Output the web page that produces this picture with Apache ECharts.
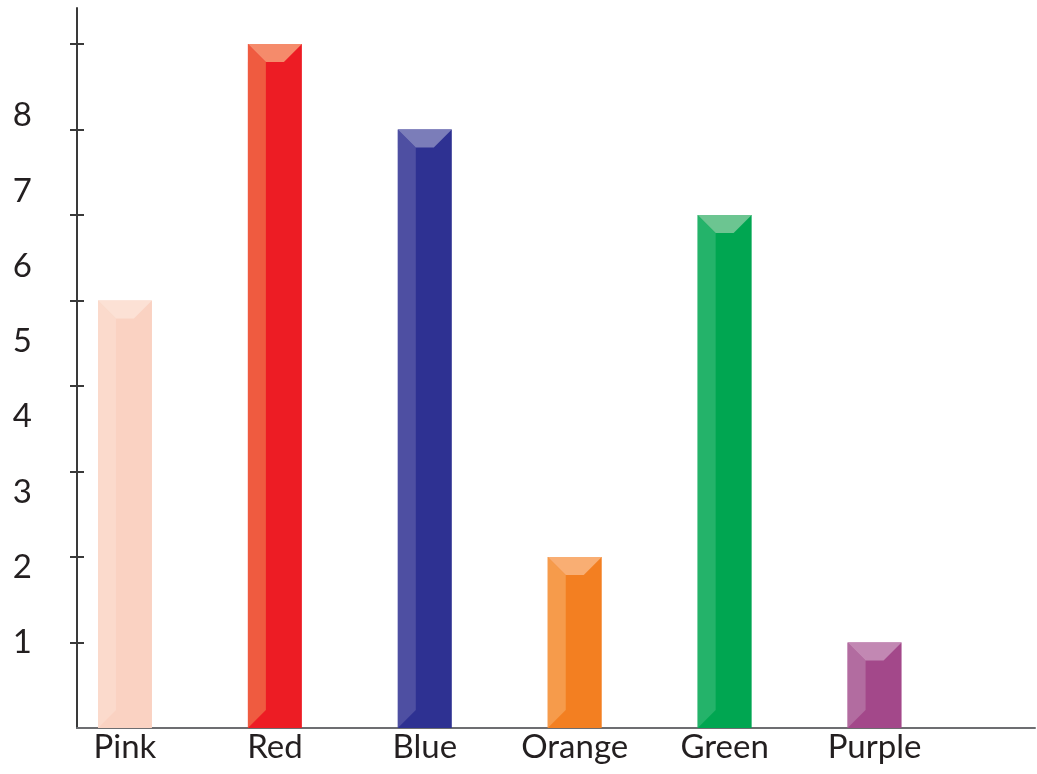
<!DOCTYPE html>
<html>
<head>
<meta charset="utf-8">
<script src="https://cdn.jsdelivr.net/npm/echarts@6/dist/echarts.min.js"></script>
<style>
  html, body { margin: 0; padding: 0; background: #fff; }
  #chart { width: 1037px; height: 774px; }
</style>
</head>
<body>
<div id="chart"></div>
<script>
// data
var categories = ['Pink', 'Red', 'Blue', 'Orange', 'Green', 'Purple'];
var values = [5, 8, 7, 2, 6, 1];
var tickLabels = [1, 2, 3, 4, 5, 6, 7, 8];

// base / left bevel / top bevel colours for each bar
var barColors = [
    { base: '#FAD2C2', side: '#FBDACC', top: '#FCE1D5' },
    { base: '#ED1C24', side: '#EF5B40', top: '#F58B6B' },
    { base: '#2E3192', side: '#4E4FA2', top: '#7B7DB9' },
    { base: '#F37F21', side: '#F69B4B', top: '#F9AE73' },
    { base: '#00A651', side: '#24B36A', top: '#6CC591' },
    { base: '#A3488A', side: '#B26CA0', top: '#C288B3' }
];

var FONT = 'Lato, "Open Sans", sans-serif';
var TEXT = '#231F20';

var chart = echarts.init(document.getElementById('chart'));

// draws one bevelled bar
function renderBar(params, api) {
    var i = api.value(0);
    var v = api.value(1);
    var top = api.coord([i, v]);
    var base = api.coord([i, 0]);
    var w = api.size([0.36, 0])[0];
    var b = w / 3;
    var x0 = top[0] - w / 2, x1 = top[0] + w / 2;
    var y0 = top[1], y1 = base[1];
    var c = barColors[params.dataIndex];
    return {
        type: 'group',
        children: [
            { type: 'rect', shape: { x: x0, y: y0, width: w, height: y1 - y0 }, style: { fill: c.base } },
            { type: 'polygon', shape: { points: [[x0, y0], [x0 + b, y0 + b], [x0 + b, y1 - b], [x0, y1]] }, style: { fill: c.side } },
            { type: 'polygon', shape: { points: [[x0, y0], [x1, y0], [x1 - b, y0 + b], [x0 + b, y0 + b]] }, style: { fill: c.top } }
        ]
    };
}

var option = {
    animation: false,
    backgroundColor: '#ffffff',
    grid: { left: 77, right: 2, top: 8, bottom: 46 },
    xAxis: {
        type: 'value',
        min: 0.68,
        max: 7.07,
        axisLine: { show: true, lineStyle: { color: '#6D6E71', width: 2 } },
        axisTick: { show: false },
        splitLine: { show: false },
        axisLabel: {
            customValues: categories.map(function (c, i) { return i + 1; }),
            formatter: function (v) { return categories[Math.round(v) - 1]; },
            margin: 3,
            fontSize: 33,
            fontFamily: FONT,
            color: TEXT
        }
    },
    yAxis: [
        {
            // main scale, outward ticks
            type: 'value',
            position: 'left',
            min: 0,
            max: 8.42,
            axisLine: { show: true, lineStyle: { color: '#3A3A3A', width: 2 } },
            axisTick: { show: true, customValues: tickLabels, length: 7, lineStyle: { color: '#3A3A3A', width: 2 } },
            axisLabel: { show: false },
            splitLine: { show: false }
        },
        {
            // same scale, inward half of the ticks
            type: 'value',
            position: 'left',
            min: 0,
            max: 8.42,
            axisLine: { show: false },
            axisTick: { show: true, inside: true, customValues: tickLabels, length: 7, lineStyle: { color: '#3A3A3A', width: 2 } },
            axisLabel: { show: false },
            splitLine: { show: false }
        },
        {
            // the numbers sit on their own, tighter spacing
            type: 'value',
            position: 'left',
            min: -0.133,
            max: 9.43,
            axisLine: { show: false },
            axisTick: { show: false },
            splitLine: { show: false },
            axisLabel: {
                customValues: tickLabels,
                margin: 45,
                fontSize: 33,
                fontFamily: FONT,
                color: TEXT
            }
        }
    ],
    series: [{
        type: 'custom',
        xAxisIndex: 0,
        yAxisIndex: 0,
        renderItem: renderBar,
        data: categories.map(function (c, i) { return [i + 1, values[i]]; })
    }]
};

chart.setOption(option);
</script>
</body>
</html>
